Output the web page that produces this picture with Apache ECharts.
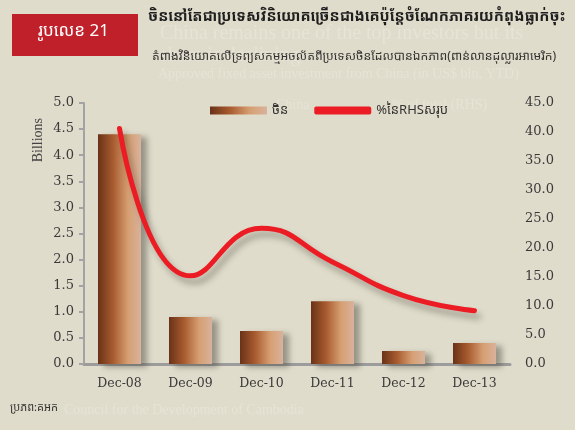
<!DOCTYPE html>
<html>
<head>
<meta charset="utf-8">
<script src="https://cdn.jsdelivr.net/npm/echarts@6/dist/echarts.min.js"></script>
<style>
  html,body{margin:0;padding:0;background:#e0dccb;}
  #chart{width:575px;height:430px;}
</style>
</head>
<body>
<div id="chart"></div>
<script>
var categories = ['Dec-08', 'Dec-09', 'Dec-10', 'Dec-11', 'Dec-12', 'Dec-13'];
var chinaValues = [4.4, 0.9, 0.63, 1.2, 0.25, 0.4];
var shareValues = [40.6, 15.2, 23.4, 17.6, 11.8, 9.2];
var leftTicks = [0, 5, 0.5];
var rightTicks = [0, 45, 5];

var khmer = 'Noto Sans Khmer, Khmer OS, Noto Sans, sans-serif';
var serif = 'Liberation Serif';
var labelFont = 'DejaVu Serif';

var barColor = new echarts.graphic.LinearGradient(0, 0, 1, 0, [
    {offset: 0, color: '#6a3217'},
    {offset: 0.35, color: '#a85b2f'},
    {offset: 0.7, color: '#d69f72'},
    {offset: 1, color: '#d9b29c'}
]);
var ghost = 'rgba(255,255,255,0.22)';

var myChart = echarts.init(document.getElementById('chart'));
option = {
    backgroundColor: '#e0dccb',
    animation: false,
    graphic: [
        {type: 'rect', shape: {x: 12, y: 14, width: 126, height: 42}, style: {fill: '#c0202a'}},
        {type: 'text', left: 38, top: 23, style: {text: 'រូបលេខ 21', fill: '#fff', font: '17px ' + khmer}},
        // faint english text behind
        {type: 'text', left: 160, top: 24, style: {text: 'China remains one of the top investors but its', fill: ghost, font: '20px ' + serif}},
        {type: 'text', left: 160, top: 46, style: {text: 'share is declining', fill: ghost, font: '20px ' + serif}},
        {type: 'text', left: 158, top: 67, style: {text: 'Approved fixed asset investment from China (in US$ bln, YTD)', fill: ghost, font: '14px ' + serif}},
        {type: 'text', left: 148, top: 9, style: {text: 'ចិននៅតែជាប្រទេសវិនិយោគច្រើនជាងគេប៉ុន្តែចំណែកភាគរយកំពុងធ្លាក់ចុះ', fill: '#1e1e1e', font: 'bold 15px ' + khmer}},
        {type: 'text', left: 152, top: 51, style: {text: 'តំពាងវិនិយោគលើទ្រព្យសកម្មអចល័តពីប្រទេសចិនដែលបានឯកភាព(ពាន់លានដុល្លារអាមេរិក)', fill: '#333', font: '12.2px ' + khmer}},
        {type: 'text', left: 276, top: 98, style: {text: 'China', fill: ghost, font: '14px ' + serif}},
        {type: 'text', left: 392, top: 98, style: {text: '% of total (RHS)', fill: ghost, font: '14px ' + serif}},
        {type: 'text', left: 10, top: 402, style: {text: 'ប្រភព:គអក', fill: '#333', font: '11px ' + khmer}},
        {type: 'text', left: 64, top: 403, style: {text: 'Council for the Development of Cambodia', fill: ghost, font: '14px ' + serif}},
        {type: 'text', left: 31, top: 118, rotation: Math.PI / 2, style: {text: 'Billions', fill: '#444', font: '14px ' + serif}}
    ],
    legend: {
        left: 205,
        top: 99,
        itemWidth: 57,
        itemHeight: 8,
        itemGap: 26,
        textStyle: {fontFamily: khmer, fontSize: 13, color: '#333'},
        data: [
            {name: 'ចិន', icon: 'rect'},
            {name: '%នៃRHSសរុប', icon: 'roundRect'}
        ]
    },
    grid: {left: 84, right: 65, top: 103, bottom: 66},
    xAxis: {
        type: 'category',
        data: categories,
        boundaryGap: true,
        axisLine: {lineStyle: {color: '#9c9c9c', width: 3}},
        axisTick: {show: false},
        axisLabel: {fontFamily: labelFont, fontSize: 12.5, color: '#3a3a3a', margin: 13, interval: 0}
    },
    yAxis: [
        {
            type: 'value',
            min: leftTicks[0], max: leftTicks[1], interval: leftTicks[2],
            axisLine: {show: true, lineStyle: {color: '#a3a3a3', width: 2}},
            axisTick: {show: true, inside: false, length: 5, lineStyle: {color: '#a3a3a3', width: 2}},
            splitLine: {show: false},
            axisLabel: {fontFamily: labelFont, fontSize: 13, color: '#3a3a3a', margin: 10,
                formatter: function(v){ return v.toFixed(1); }}
        },
        {
            type: 'value',
            min: rightTicks[0], max: rightTicks[1], interval: rightTicks[2],
            axisLine: {show: false},
            axisTick: {show: false},
            splitLine: {show: false},
            axisLabel: {fontFamily: labelFont, fontSize: 13, color: '#3a3a3a', margin: 15,
                formatter: function(v){ return v.toFixed(1); }}
        }
    ],
    series: [
        {
            name: 'ចិន',
            type: 'bar',
            data: chinaValues,
            barWidth: 43,
            itemStyle: {
                color: barColor,
                shadowColor: 'rgba(60,60,50,0.45)',
                shadowBlur: 6,
                shadowOffsetX: 6,
                shadowOffsetY: 3
            }
        },
        {
            name: '%នៃRHSសរុប',
            type: 'line',
            yAxisIndex: 1,
            data: shareValues,
            smooth: 0.5,
            symbol: 'none',
            lineStyle: {
                color: '#ec1c24',
                width: 5,
                cap: 'round',
                shadowColor: 'rgba(60,60,50,0.4)',
                shadowBlur: 6,
                shadowOffsetX: 4,
                shadowOffsetY: 6
            },
            itemStyle: {color: '#ec1c24'}
        }
    ]
};
myChart.setOption(option, true);
</script>
</body>
</html>
